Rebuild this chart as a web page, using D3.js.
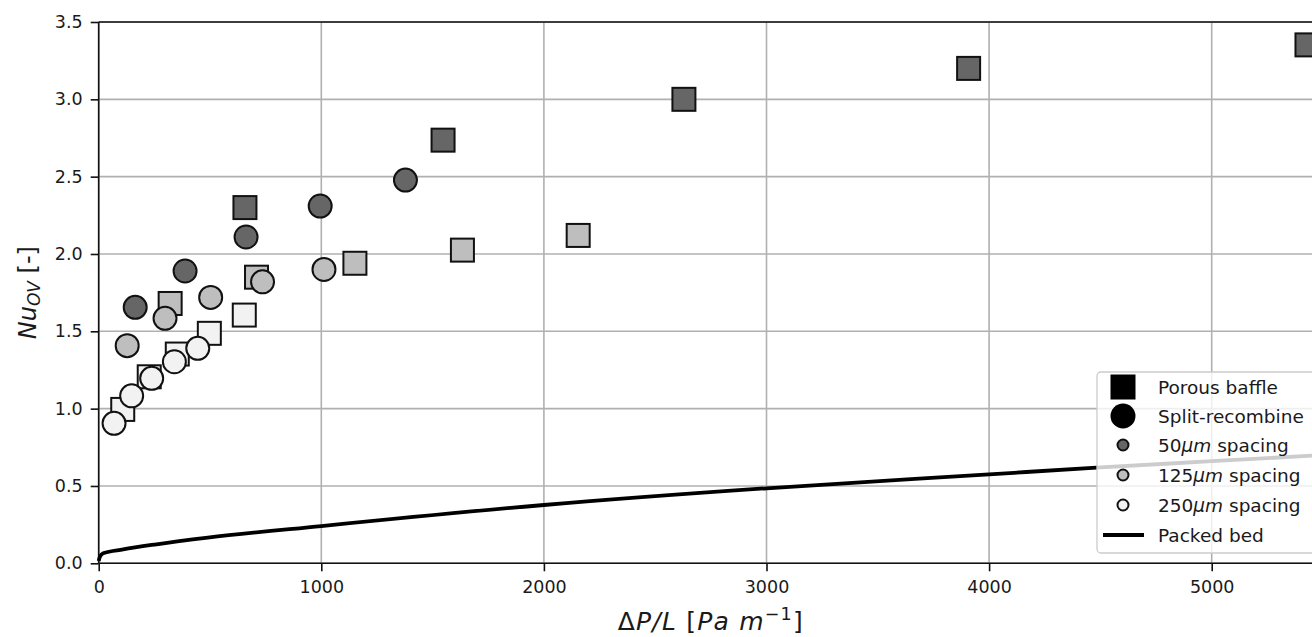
<!DOCTYPE html>
<html>
<head>
    <meta charset="utf-8">
    <title>Nu vs pressure drop</title>
    <style type="text/css">
        body { margin: 0; background: #fff; }
        svg { display: block; font-family: "DejaVu Sans", sans-serif; }
    </style>
</head>
<body>

<script src="https://cdn.jsdelivr.net/npm/d3@7"></script>
<script type="text/javascript">

// porous baffle, by spacing
var dp50Baffle  = [657, 1547, 2629, 3908, 5428],
    nu50Baffle  = [2.30, 2.736, 3.00, 3.20, 3.352],
    dp125Baffle = [321, 709, 1151, 1634, 2154],
    nu125Baffle = [1.68, 1.85, 1.94, 2.025, 2.12],
    dp250Baffle = [108, 227, 353, 497, 654],
    nu250Baffle = [0.995, 1.206, 1.353, 1.487, 1.605];

// split-recombine, by spacing
var dp50Split  = [164, 388, 662, 995, 1378],
    nu50Split  = [1.655, 1.89, 2.11, 2.31, 2.478],
    dp125Split = [128, 298, 503, 736, 1012],
    nu125Split = [1.407, 1.584, 1.719, 1.82, 1.90],
    dp250Split = [69, 148, 238, 340, 445],
    nu250Split = [0.905, 1.083, 1.196, 1.303, 1.39];

// packed bed curve
var bedDp = [0, 5, 20, 110, 260, 490, 1000, 2000, 3000, 4000, 4500, 5000, 5500],
    bedNu = [0.015, 0.04, 0.065, 0.09, 0.123, 0.166, 0.241, 0.377, 0.485, 0.575, 0.62, 0.66, 0.70];

var xTicks = [0, 1000, 2000, 3000, 4000, 5000],
    yTicks = [0, 0.5, 1.0, 1.5, 2.0, 2.5, 3.0, 3.5];

var spacingFill = {"50": "#666666", "125": "#bebebe", "250": "#f2f2f2"};

var width = 1312, height = 637;
var pLeft = 98.7, pTop = 22, pBottom = 563.3, pRight = 1323;

var svg = d3.select("body").append("svg")
    .attr("width", width)
    .attr("height", height);

var x = d3.scaleLinear().domain([0, 5500]).range([pLeft, pRight]);
var y = d3.scaleLinear().domain([0, 3.5]).range([pBottom, pTop]);

// grid
svg.append("g").selectAll("line")
    .data(xTicks).enter().append("line")
    .attr("x1", function(d){ return x(d); }).attr("x2", function(d){ return x(d); })
    .attr("y1", pTop).attr("y2", pBottom)
    .attr("stroke", "#b0b0b0").attr("stroke-width", 1.6);
svg.append("g").selectAll("line")
    .data(yTicks).enter().append("line")
    .attr("x1", pLeft).attr("x2", pRight)
    .attr("y1", function(d){ return y(d); }).attr("y2", function(d){ return y(d); })
    .attr("stroke", "#b0b0b0").attr("stroke-width", 1.6);

// axes
var xAxis = svg.append("g")
    .attr("transform", "translate(0," + pBottom + ")")
    .call(d3.axisBottom(x).tickValues(xTicks).tickFormat(d3.format("d")).tickSize(8).tickPadding(8));
var yAxis = svg.append("g")
    .attr("transform", "translate(" + pLeft + ",0)")
    .call(d3.axisLeft(y).tickValues(yTicks).tickFormat(d3.format(".1f")).tickSize(8).tickPadding(8));
[xAxis, yAxis].forEach(function(a){
    a.attr("font-family", "DejaVu Sans").attr("font-size", 17.5);
    a.select(".domain").remove();
    a.selectAll(".tick line").attr("stroke", "#111").attr("stroke-width", 1.6);
    a.selectAll(".tick text").attr("fill", "#1a1a1a");
});
xAxis.selectAll(".tick text").attr("dy", "0.78em");

// spines
svg.append("line").attr("x1", pLeft).attr("x2", pLeft).attr("y1", pTop).attr("y2", pBottom)
    .attr("stroke", "#111").attr("stroke-width", 1.6);
svg.append("line").attr("x1", pLeft).attr("x2", pRight).attr("y1", pBottom).attr("y2", pBottom)
    .attr("stroke", "#111").attr("stroke-width", 1.6);
svg.append("line").attr("x1", pLeft).attr("x2", pRight).attr("y1", pTop).attr("y2", pTop)
    .attr("stroke", "#111").attr("stroke-width", 1.6);

// packed bed line
var bed = bedDp.map(function(d, i){ return [d, bedNu[i]]; });
svg.append("path")
    .datum(bed)
    .attr("fill", "none")
    .attr("stroke", "#000")
    .attr("stroke-width", 3.8)
    .attr("d", d3.line()
        .x(function(d){ return x(d[0]); })
        .y(function(d){ return y(d[1]); })
        .curve(d3.curveMonotoneX));

function pairs(xs, ys){ return xs.map(function(d, i){ return [d, ys[i]]; }); }

var squares = [
    {sp: "50", pts: pairs(dp50Baffle, nu50Baffle)},
    {sp: "125", pts: pairs(dp125Baffle, nu125Baffle)},
    {sp: "250", pts: pairs(dp250Baffle, nu250Baffle)}
];
var circles = [
    {sp: "50", pts: pairs(dp50Split, nu50Split)},
    {sp: "125", pts: pairs(dp125Split, nu125Split)},
    {sp: "250", pts: pairs(dp250Split, nu250Split)}
];

var sq = 23;
squares.forEach(function(s){
    svg.append("g").selectAll("rect")
        .data(s.pts).enter().append("rect")
        .attr("x", function(d){ return x(d[0]) - sq / 2; })
        .attr("y", function(d){ return y(d[1]) - sq / 2; })
        .attr("width", sq).attr("height", sq)
        .attr("fill", spacingFill[s.sp])
        .attr("stroke", "#111").attr("stroke-width", 2);
});
circles.forEach(function(s){
    svg.append("g").selectAll("circle")
        .data(s.pts).enter().append("circle")
        .attr("cx", function(d){ return x(d[0]); })
        .attr("cy", function(d){ return y(d[1]); })
        .attr("r", 11.5)
        .attr("fill", spacingFill[s.sp])
        .attr("stroke", "#111").attr("stroke-width", 2);
});

// legend
var lg = svg.append("g");
lg.append("rect")
    .attr("x", 1097).attr("y", 372).attr("width", 240).attr("height", 181).attr("rx", 4)
    .attr("fill", "#fff").attr("fill-opacity", 0.8)
    .attr("stroke", "#cccccc").attr("stroke-width", 1.3);

var rowY = [387, 416, 445, 475, 505, 535], mx = 1123, tx = 1158;
lg.append("rect").attr("x", mx - 12.5).attr("y", rowY[0] - 12.5).attr("width", 25).attr("height", 25).attr("fill", "#000");
lg.append("circle").attr("cx", mx).attr("cy", rowY[1]).attr("r", 12.5).attr("fill", "#000");
["50", "125", "250"].forEach(function(sp, i){
    lg.append("circle").attr("cx", mx).attr("cy", rowY[2 + i]).attr("r", 5.5)
        .attr("fill", spacingFill[sp]).attr("stroke", "#111").attr("stroke-width", 2);
});
lg.append("line").attr("x1", 1103).attr("x2", 1144).attr("y1", rowY[5]).attr("y2", rowY[5])
    .attr("stroke", "#000").attr("stroke-width", 3.8);

function legendText(i){
    return lg.append("text").attr("x", tx).attr("y", rowY[i] + 6.5)
        .attr("font-size", "18.5px").attr("fill", "#1a1a1a");
}
legendText(0).text("Porous baffle");
legendText(1).text("Split-recombine");
["50", "125", "250"].forEach(function(sp, i){
    var t = legendText(2 + i);
    t.append("tspan").text(sp);
    t.append("tspan").attr("font-style", "italic").text("\u03bcm");
    t.append("tspan").text(" spacing");
});
legendText(5).text("Packed bed");

// axis titles
var xl = svg.append("text")
    .attr("x", (pLeft + pRight) / 2).attr("y", 630)
    .attr("text-anchor", "middle").attr("font-size", "25px")
    .attr("letter-spacing", 1.2).attr("fill", "#1a1a1a");
xl.append("tspan").text("\u0394");
xl.append("tspan").attr("font-style", "italic").text("P/L");
xl.append("tspan").text(" [");
xl.append("tspan").attr("font-style", "italic").text("Pa m");
xl.append("tspan").attr("font-size", "17.5px").attr("dy", -10).text("\u22121");
xl.append("tspan").attr("dy", 10).text("]");

var yl = svg.append("text")
    .attr("transform", "translate(36," + ((pTop + pBottom) / 2) + ") rotate(-90)")
    .attr("text-anchor", "middle").attr("font-size", "24px").attr("fill", "#1a1a1a");
yl.append("tspan").attr("font-style", "italic").text("Nu");
yl.append("tspan").attr("font-style", "italic").attr("font-size", "17px").attr("dy", 4).text("OV");
yl.append("tspan").attr("dy", -4).text(" [-]");

</script>
</body>
</html>
